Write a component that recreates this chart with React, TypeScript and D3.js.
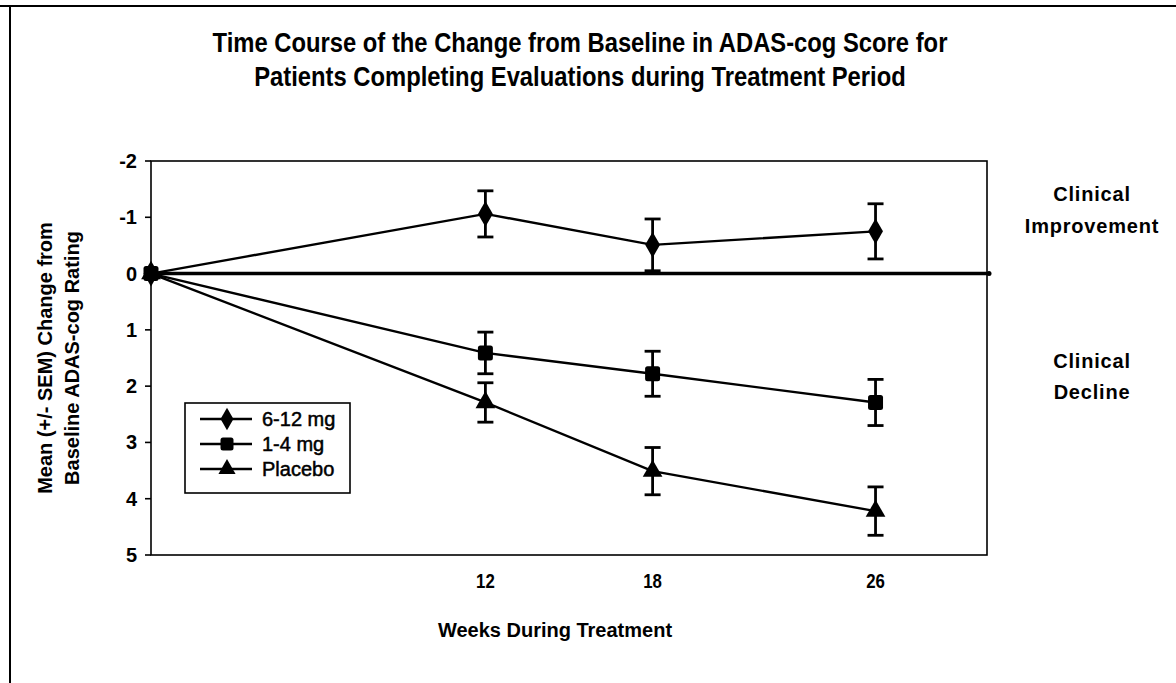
import React from "react";
import * as d3 from "d3";

const weeks = [0, 12, 18, 26];
const xTickWeeks = [12, 18, 26];
const yTicks = [-2, -1, 0, 1, 2, 3, 4, 5];

const seriesNames = ["6-12 mg", "1-4 mg", "Placebo"];
const mean612 = [0, -1.06, -0.51, -0.75];
const sem612 = [0, 0.41, 0.46, 0.49];
const mean14 = [0, 1.41, 1.78, 2.29];
const sem14 = [0, 0.37, 0.4, 0.41];
const meanPlacebo = [0, 2.29, 3.51, 4.22];
const semPlacebo = [0, 0.35, 0.42, 0.43];
const markerShapes = ["diamond", "square", "triangle"];

const baselineWeeks = [0, 30];
const baselineValues = [0, 0];

const titleLines = [
  "Time Course of the Change from Baseline in ADAS-cog Score for",
  "Patients Completing Evaluations during Treatment Period",
];
const yTitleLines = ["Mean (+/- SEM) Change from", "Baseline ADAS-cog Rating"];
const xTitle = "Weeks During Treatment";
const improvementLines = ["Clinical", "Improvement"];
const declineLines = ["Clinical", "Decline"];

const W = 1176;
const H = 683;
const plot = { left: 151, right: 987, top: 161, bottom: 555 };
const FONT = "'Liberation Sans', Arial, sans-serif";

const x = d3.scaleLinear().domain([0, 30]).range([plot.left, plot.right]);
const y = d3.scaleLinear().domain([-2, 5]).range([plot.top, plot.bottom]);

function Marker({ shape, cx, cy, s }: { shape: string; cx: number; cy: number; s: number }) {
  if (shape === "diamond") {
    const p = d3.symbol(d3.symbolDiamond, s * s * 0.85)();
    return <path d={p || ""} transform={`translate(${cx},${cy})`} fill="#000" />;
  }
  if (shape === "square") {
    return <rect x={cx - s / 2} y={cy - s / 2} width={s} height={s} rx={2.5} fill="#000" />;
  }
  const p = d3.symbol(d3.symbolTriangle, s * s * 0.75)();
  return <path d={p || ""} transform={`translate(${cx},${cy})`} fill="#000" />;
}

function NarrowText({ x0, y0, sx, size, children, anchor = "middle" }: any) {
  return (
    <g transform={`translate(${x0},${y0}) scale(${sx},1)`}>
      <text x={0} y={0} textAnchor={anchor} fontFamily={FONT} fontWeight="bold" fontSize={size}>
        {children}
      </text>
    </g>
  );
}

export default function App() {
  const series = [
    { name: seriesNames[0], mean: mean612, sem: sem612, shape: markerShapes[0] },
    { name: seriesNames[1], mean: mean14, sem: sem14, shape: markerShapes[1] },
    { name: seriesNames[2], mean: meanPlacebo, sem: semPlacebo, shape: markerShapes[2] },
  ];
  const line = d3
    .line<number>()
    .x((_, i) => x(weeks[i]))
    .y((d) => y(d));
  const baseLine = d3
    .line<number>()
    .x((_, i) => x(baselineWeeks[i]))
    .y((d) => y(d));

  const capW = 8;
  const legend = { x: 185, y: 403, w: 165, h: 90 };

  return (
    <svg width={W} height={H} style={{ position: "absolute", left: 0, top: 0, background: "#fff" }}>
      <rect x={0} y={0} width={W} height={H} fill="#fff" />
      {/* outer frame */}
      <line x1={0} x2={W} y1={6} y2={6} stroke="#000" strokeWidth={2} />
      <line x1={10} x2={10} y1={6} y2={H} stroke="#000" strokeWidth={2} />

      {/* title */}
      {titleLines.map((t, i) => (
        <NarrowText key={t} x0={580} y0={52 + i * 34} sx={0.85} size={28}>
          {t}
        </NarrowText>
      ))}

      {/* plot frame */}
      <rect x={plot.left} y={plot.top} width={plot.right - plot.left} height={plot.bottom - plot.top} fill="none" stroke="#000" strokeWidth={1.6} />

      {/* y ticks */}
      {yTicks.map((t) => (
        <g key={t}>
          <line x1={plot.left - 6} x2={plot.left} y1={y(t)} y2={y(t)} stroke="#000" strokeWidth={1.6} />
          <text x={plot.left - 14} y={y(t)} dy="0.35em" textAnchor="end" fontFamily={FONT} fontWeight="bold" fontSize={20}>
            {t}
          </text>
        </g>
      ))}

      {/* x labels */}
      {xTickWeeks.map((w) => (
        <NarrowText key={w} x0={x(w)} y0={plot.bottom + 33} sx={0.8} size={21}>
          {w}
        </NarrowText>
      ))}

      {/* axis titles */}
      <text x={555} y={plot.bottom + 82} textAnchor="middle" fontFamily={FONT} fontWeight="bold" fontSize={20}>
        {xTitle}
      </text>
      {yTitleLines.map((t, i) => (
        <text
          key={t}
          transform={`translate(${52 + i * 27},${(plot.top + plot.bottom) / 2}) rotate(-90)`}
          textAnchor="middle"
          fontFamily={FONT}
          fontWeight="bold"
          fontSize={20}
        >
          {t}
        </text>
      ))}

      {/* right side labels */}
      {improvementLines.map((t, i) => (
        <text key={"i" + t} x={1092} y={201 + i * 32} textAnchor="middle" fontFamily={FONT} fontWeight="bold" fontSize={20} letterSpacing={0.8}>
          {t}
        </text>
      ))}
      {declineLines.map((t, i) => (
        <text key={"d" + t} x={1092} y={368 + i * 31} textAnchor="middle" fontFamily={FONT} fontWeight="bold" fontSize={20} letterSpacing={0.8}>
          {t}
        </text>
      ))}

      {/* baseline zero line */}
      <path d={baseLine(baselineValues) || ""} stroke="#000" strokeWidth={3.5} fill="none" />
      <circle cx={x(baselineWeeks[1]) + 2} cy={y(0)} r={2.5} fill="#000" />

      {/* series */}
      {series.map((s) => (
        <g key={s.name}>
          <path d={line(s.mean) || ""} stroke="#000" strokeWidth={2.4} fill="none" />
          {s.mean.map((m, i) =>
            s.sem[i] > 0 ? (
              <g key={i} stroke="#000" strokeWidth={2.8}>
                <line x1={x(weeks[i])} x2={x(weeks[i])} y1={y(m - s.sem[i])} y2={y(m + s.sem[i])} />
                <line x1={x(weeks[i]) - capW} x2={x(weeks[i]) + capW} y1={y(m - s.sem[i])} y2={y(m - s.sem[i])} />
                <line x1={x(weeks[i]) - capW} x2={x(weeks[i]) + capW} y1={y(m + s.sem[i])} y2={y(m + s.sem[i])} />
              </g>
            ) : null
          )}
          {s.mean.map((m, i) => (
            <Marker key={i} shape={s.shape} cx={x(weeks[i])} cy={y(m)} s={15} />
          ))}
        </g>
      ))}

      {/* legend */}
      <rect x={legend.x} y={legend.y} width={legend.w} height={legend.h} fill="#fff" stroke="#000" strokeWidth={1.6} />
      {series.map((s, i) => {
        const ly = legend.y + 16 + i * 25;
        return (
          <g key={s.name}>
            <line x1={legend.x + 15} x2={legend.x + 67} y1={ly} y2={ly} stroke="#000" strokeWidth={2.4} />
            <Marker shape={s.shape} cx={legend.x + 42} cy={ly} s={13} />
            <text x={legend.x + 77} y={ly} dy="0.35em" fontFamily={FONT} fontSize={20} stroke="#000" strokeWidth={0.5}>
              {s.name}
            </text>
          </g>
        );
      })}
    </svg>
  );
}
